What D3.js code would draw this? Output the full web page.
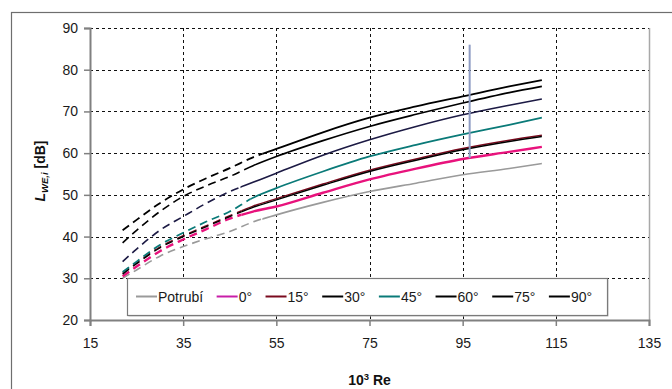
<!DOCTYPE html>
<html>
<head>
<meta charset="utf-8">
<script src="https://cdn.jsdelivr.net/npm/d3@7"></script>
<style>
  body { margin: 0; background: #fff; }
  svg { display: block; font-family: 'Liberation Sans', Arial, sans-serif; }
</style>
</head>
<body>
<div id="chart"></div>
<script>
// Re values (x 10^3) where the curves were read
const re = [22, 25, 30, 35, 40, 45, 50, 55, 65, 75, 85, 95, 105, 112]

const seriesNames = ['Potrubí', '0°', '15°', '30°', '45°', '60°', '75°', '90°']

const potrubi = [30, 32, 35.3, 37.6, 39.5, 41.2, 43.5, 45.2, 48.2, 50.8, 52.8, 54.8, 56.3, 57.5]
const deg0 = [30.5, 32.8, 36.5, 39.3, 41.8, 44.3, 46, 47.2, 50.5, 53.7, 56.3, 58.6, 60.3, 61.5]
const deg15 = [31.2, 33.7, 37.5, 40.2, 42.6, 45, 47.3, 49.1, 52.6, 55.9, 58.6, 61.1, 63.1, 64.3]
const deg30 = [31, 33.5, 37.3, 40, 42.4, 44.8, 47, 48.8, 52.3, 55.6, 58.3, 60.8, 62.8, 64]
const deg45 = [31.5, 34, 38, 40.9, 43.6, 46, 49.3, 51.6, 55.6, 59.2, 62, 64.5, 66.8, 68.5]
const deg60 = [34, 37, 41.5, 44.8, 48, 50.8, 53, 55.2, 59.5, 63.2, 66.4, 69.2, 71.5, 73]
const deg75 = [38.5, 41.5, 46, 49.6, 52.2, 54.4, 57, 59.2, 63, 66.4, 69.3, 72, 74.5, 76]
const deg90 = [41.5, 44, 48, 51.3, 54, 56.4, 59, 61, 65, 68.5, 71.2, 73.6, 76, 77.5]

// Re where each curve turns from dashed to solid
const solidFrom = [52, 47.5, 47.5, 47.5, 49.5, 47.3, 48.3, 52]

// vertical marker line
const markerRe = 96.5
const markerRange = [58.8, 86]

const xTicks = [15, 35, 55, 75, 95, 115, 135]
const yTicks = [20, 30, 40, 50, 60, 70, 80, 90]

const colors = ['#9a9a9a', '#e8127c', '#7a0a1e', '#000000', '#0a7a78', '#1c1a44', '#000000', '#000000']
const legendColors = ['#9a9a9a', '#c81ea8', '#7a0a1e', '#000000', '#0a7a78', '#000000', '#000000', '#000000']
const widths = [1.6, 2.4, 1.4, 1.4, 1.8, 1.6, 1.6, 1.8]

const allValues = [potrubi, deg0, deg15, deg30, deg45, deg60, deg75, deg90]

const W = 672, H = 389
const margin = { left: 90, right: 23, top: 28, bottom: 69 }
const width = W - margin.left - margin.right
const height = H - margin.top - margin.bottom

const svg = d3.select('#chart').append('svg')
  .attr('width', W)
  .attr('height', H)

// outer chart frame (cut by the picture edge)
svg.append('rect')
  .attr('x', 11.5).attr('y', 12.5)
  .attr('width', 700).attr('height', 400)
  .attr('fill', 'none')
  .attr('stroke', '#6e6e6e')
  .attr('stroke-width', 1.2)

const g = svg.append('g').attr('transform', `translate(${margin.left},${margin.top})`)

const x = d3.scaleLinear().domain([15, 135]).range([0, width])
const y = d3.scaleLinear().domain([20, 90]).range([height, 0])

// grid
g.append('g')
  .selectAll('line')
  .data(yTicks.filter(d => d > 20))
  .join('line')
  .attr('x1', 0).attr('x2', width)
  .attr('y1', d => Math.round(y(d)) + 0.5).attr('y2', d => Math.round(y(d)) + 0.5)
  .attr('stroke', '#111')
  .attr('stroke-dasharray', '3,3')

g.append('g')
  .selectAll('line')
  .data(xTicks.filter(d => d > 15 && d < 135))
  .join('line')
  .attr('x1', d => Math.round(x(d)) + 0.5).attr('x2', d => Math.round(x(d)) + 0.5)
  .attr('y1', 0).attr('y2', height)
  .attr('stroke', '#111')
  .attr('stroke-dasharray', '3,3')

// right border of plot area
g.append('line')
  .attr('x1', width + 0.5).attr('x2', width + 0.5)
  .attr('y1', 0).attr('y2', height)
  .attr('stroke', '#a8a8a8')
  .attr('stroke-width', 1.5)

// axes
const yAxis = g.append('g')
  .call(d3.axisLeft(y).tickValues(yTicks).tickSize(6).tickPadding(6))
const xAxis = g.append('g')
  .attr('transform', `translate(0,${height})`)
  .call(d3.axisBottom(x).tickValues(xTicks).tickSize(6).tickPadding(12))

for (const ax of [xAxis, yAxis]) {
  ax.select('.domain').attr('stroke', '#808080').attr('stroke-width', 2)
  ax.selectAll('.tick line').attr('stroke', '#808080').attr('stroke-width', 1.5)
  ax.selectAll('.tick text')
    .attr('font-size', 14)
    .attr('font-family', "'Liberation Sans', Arial, sans-serif")
    .attr('fill', '#1a1a1a')
}

// curves
const defs = svg.append('defs')
const line = d3.line()
  .x(d => x(d[0]))
  .y(d => y(d[1]))
  .curve(d3.curveMonotoneX)

allValues.forEach((vals, i) => {
  const pts = re.map((r, k) => [r, vals[k]])
  const split = x(solidFrom[i])

  defs.append('clipPath').attr('id', `dash-${i}`)
    .append('rect').attr('x', -10).attr('y', -10).attr('width', split + 10).attr('height', height + 20)
  defs.append('clipPath').attr('id', `solid-${i}`)
    .append('rect').attr('x', split).attr('y', -10).attr('width', width - split).attr('height', height + 20)

  g.append('path')
    .datum(pts)
    .attr('clip-path', `url(#dash-${i})`)
    .attr('fill', 'none')
    .attr('stroke', colors[i])
    .attr('stroke-width', widths[i])
    .attr('stroke-dasharray', '8,5')
    .attr('d', line)

  g.append('path')
    .datum(pts)
    .attr('clip-path', `url(#solid-${i})`)
    .attr('fill', 'none')
    .attr('stroke', colors[i])
    .attr('stroke-width', widths[i])
    .attr('stroke-linejoin', 'round')
    .attr('d', line)
})

// vertical marker
g.append('line')
  .attr('x1', x(markerRe)).attr('x2', x(markerRe))
  .attr('y1', y(markerRange[1])).attr('y2', y(markerRange[0]))
  .attr('stroke', '#8e9cc4')
  .attr('stroke-width', 2)

// legend
const legend = svg.append('g').attr('transform', 'translate(127,278)')
const legendW = 480, legendH = 37
legend.append('rect')
  .attr('x', 1.5).attr('y', 1.5)
  .attr('width', legendW).attr('height', legendH)
  .attr('fill', '#c8c8c8')
legend.append('rect')
  .attr('x', 0.5).attr('y', 0.5)
  .attr('width', legendW).attr('height', legendH)
  .attr('fill', '#fff')
  .attr('stroke', '#7a7a7a')
  .attr('stroke-width', 1.2)

let lx = 9
seriesNames.forEach((name, i) => {
  const item = legend.append('g').attr('transform', `translate(${lx},${legendH / 2})`)
  item.append('line')
    .attr('x1', 0).attr('x2', 21)
    .attr('stroke', legendColors[i])
    .attr('stroke-width', 2)
  const t = item.append('text')
    .attr('x', 22)
    .attr('dy', '0.36em')
    .attr('font-size', 14)
    .attr('fill', '#1a1a1a')
    .text(name)
  lx += 22 + t.node().getComputedTextLength() + 13.5
})

// axis titles
const yTitle = svg.append('text')
  .attr('transform', `translate(45,${margin.top + 143}) rotate(-90)`)
  .attr('text-anchor', 'middle')
  .attr('font-size', 14)
  .attr('font-weight', 'bold')
  .attr('fill', '#111')
yTitle.append('tspan').attr('font-style', 'italic').text('L')
yTitle.append('tspan').attr('font-style', 'italic').attr('font-size', 9.5).attr('dy', 3).text('WE,i')
yTitle.append('tspan').attr('dy', -3).text(' [dB]')

const xTitle = svg.append('text')
  .attr('x', margin.left + width / 2)
  .attr('y', 385)
  .attr('text-anchor', 'middle')
  .attr('font-size', 14)
  .attr('font-weight', 'bold')
  .attr('fill', '#111')
xTitle.append('tspan').text('10')
xTitle.append('tspan').attr('font-size', 9.5).attr('dy', -5).text('3')
xTitle.append('tspan').attr('dy', 5).text(' Re')
</script>
</body>
</html>
